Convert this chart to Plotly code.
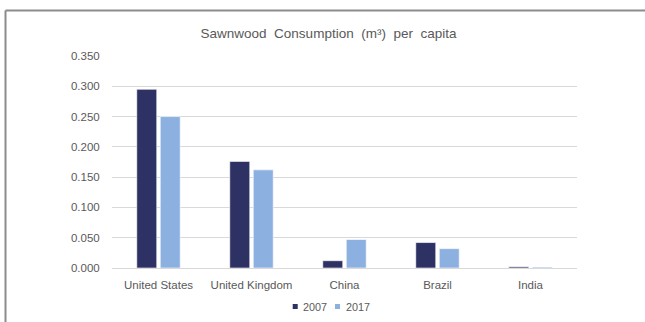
import plotly.graph_objects as go

# Sawnwood consumption per capita (m³), by country
countries = ["United States", "United Kingdom", "China", "Brazil", "India"]
years = ["2007", "2017"]
values_2007 = [0.295, 0.176, 0.012, 0.042, 0.002]
values_2017 = [0.250, 0.162, 0.047, 0.032, 0.0015]
y_ticks = [0.0, 0.05, 0.10, 0.15, 0.20, 0.25, 0.30, 0.35]

colors = {"2007": "#2E3163", "2017": "#8CB1E0"}
font_family = "Liberation Sans, Arial, sans-serif"
text_color = "#595959"
grid_color = "#D9D9D9"

W, H = 645, 322
margin = dict(l=112, r=68, t=56, b=54)
plot_w = W - margin["l"] - margin["r"]
plot_h = H - margin["t"] - margin["b"]


def px_to_paper_x(px):
    return (px - margin["l"]) / plot_w


def px_to_paper_y(py):
    return (H - margin["b"] - py) / plot_h


fig = go.Figure()
for year, vals in zip(years, [values_2007, values_2017]):
    fig.add_trace(go.Bar(
        x=countries, y=vals, name=year,
        marker=dict(color=colors[year], line=dict(color="#FFFFFF", width=0.6)),
        showlegend=False,
    ))

# Outer chart frame (left and top edges)
fx = px_to_paper_x(5.5)
fy = px_to_paper_y(10.5)
fig.add_shape(type="line", xref="paper", yref="paper",
              x0=fx, x1=fx, y0=fy, y1=px_to_paper_y(H + 5),
              line=dict(color="#8C8C8C", width=2))
fig.add_shape(type="line", xref="paper", yref="paper",
              x0=fx, x1=px_to_paper_x(W + 5), y0=fy, y1=fy,
              line=dict(color="#8C8C8C", width=2))

# Legend: small squares followed by the year labels
legend_cy = 306.5
sq = 5
lx = 292.7
for year in years:
    fig.add_shape(type="rect", xref="paper", yref="paper",
                  x0=px_to_paper_x(lx), x1=px_to_paper_x(lx + sq),
                  y0=px_to_paper_y(legend_cy + sq / 2), y1=px_to_paper_y(legend_cy - sq / 2),
                  line=dict(width=0), fillcolor=colors[year])
    fig.add_annotation(text=year, xref="paper", yref="paper",
                       x=px_to_paper_x(lx + sq + 3.5), y=px_to_paper_y(legend_cy + 0.8),
                       xanchor="left", yanchor="middle", showarrow=False,
                       font=dict(family=font_family, size=10.8, color=text_color))
    lx += 42.3

fig.update_layout(
    width=W, height=H, margin=margin,
    paper_bgcolor="white", plot_bgcolor="white",
    barmode="group", bargap=0.495, bargroupgap=0.15,
    title=dict(text="Sawnwood  Consumption  (m³)  per  capita",
               x=328.5 / W, xanchor="center", y=1 - 33 / H, yanchor="middle",
               font=dict(family=font_family, size=13.5, color=text_color)),
    font=dict(family=font_family, color=text_color),
)
fig.update_xaxes(
    showgrid=False, showline=True, linecolor=grid_color, linewidth=1,
    ticks="outside", ticklen=6, tickcolor="rgba(0,0,0,0)",
    tickfont=dict(size=11.5, color=text_color),
)
fig.update_yaxes(
    range=[0, 0.35], tickvals=y_ticks, tickformat=".3f",
    showgrid=True, gridcolor=grid_color, gridwidth=1, zeroline=False,
    ticks="outside", ticklen=9, tickcolor="rgba(0,0,0,0)",
    tickfont=dict(size=11.5, color=text_color),
)

fig.write_html("out.html")
